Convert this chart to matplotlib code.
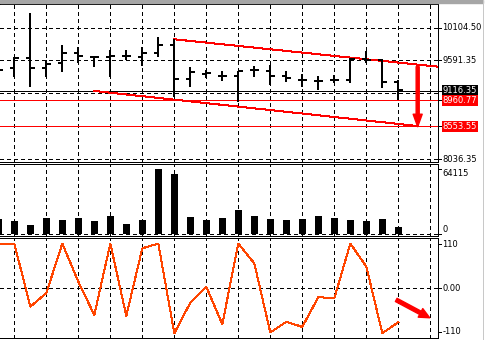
import matplotlib
matplotlib.use('Agg')
import matplotlib.pyplot as plt
import matplotlib.transforms as mtransforms
from matplotlib.patches import Rectangle
from matplotlib.lines import Line2D
import numpy as np

# ── data ───────────────────────────────────────────────────────────────────
bar_idx = np.arange(26)
opens  = [9505, 9468, 9626, 9478, 9547, 9715, 9651, 9651, 9667, 9651, 9715, 9836, 9299,
          9383, 9342, 9347, 9441, 9430, 9347, 9284, 9273, 9284, 9284, 9610, 9599, 9257]
highs  = [9568, 9642, 10337, 9599, 9836, 9809, 9667, 9757, 9757, 9809, 9958, 9926, 9484,
          9441, 9426, 9430, 9505, 9520, 9426, 9378, 9347, 9363, 9626, 9741, 9610, 9284]
lows   = [9347, 9336, 9168, 9336, 9415, 9557, 9494, 9326, 9599, 9509, 9642, 9020, 9178,
          9320, 9268, 8941, 9326, 9200, 9257, 9168, 9126, 9232, 9232, 9547, 9153, 8960]
closes = [9441, 9626, 9478, 9531, 9715, 9667, 9651, 9667, 9667, 9715, 9836, 9304, 9405,
          9394, 9342, 9430, 9441, 9347, 9310, 9284, 9273, 9284, 9610, 9599, 9257, 9125]

volumes = [15200, 13200, 9300, 16150, 14200, 16150, 13200, 18100, 10300, 14200, 64115, 59200, 17100,
           14200, 16150, 24000, 18100, 15200, 14200, 15200, 18100, 16150, 14200, 13200, 15200, 7350]

cci = [112, 112, -47, -13, 112, 16, -68, 112, -70, 100, 112, -114, -37,
       3, -91, 112, 62, -112, -85, -98, -23, -26, 112, 54, -114, -86]

price_grid = [10104.50, 9591.35, 9078.20, 8565.05, 8036.35]
price_ticks = [10104.50, 9591.35, 8036.35]
current_price = 9116.35
level_lines = [8960.77, 8553.55]
upper_trend_x, upper_trend_y = [11, 27.5], [9926, 9493]
lower_trend_x, lower_trend_y = [6, 26.2], [9110, 8557]
price_arrow = ((26.21, 9493), (26.21, 8546))
cci_arrow = ((24.87, -30), (26.96, -75))
vol_max = 64115
cci_levels = [110, 0, -110]
cci_labels = ['110', '0.00', '-110']

# ── figure ─────────────────────────────────────────────────────────────────
W, H = 486, 340
fig = plt.figure(figsize=(W / 100, H / 100), dpi=100)
fig.patch.set_facecolor('white')

PX = 0.72  # one pixel in points
DASH = (0, (3, 3))


def px_axes(x0, y0, x1, y1):
    return fig.add_axes([x0 / W, 1 - y1 / H, (x1 - x0) / W, (y1 - y0) / H])


def style(ax):
    ax.set_xlim(0.106, 27.48)
    ax.set_xticks([])
    ax.set_yticks([])
    ax.spines['left'].set_visible(False)
    for s in ('top', 'bottom', 'right'):
        ax.spines[s].set_linewidth(PX)
        ax.spines[s].set_color('black')
    for gx in range(1, 28, 2):
        ax.axvline(gx, color='black', lw=PX, ls=DASH, antialiased=False, zorder=1)


def right_label(ax, y, s, fc=None, va='center'):
    tr = mtransforms.blended_transform_factory(fig.transFigure, ax.transData)
    kw = {}
    color = 'black'
    if fc:
        kw['bbox'] = dict(boxstyle='square,pad=0.12', fc=fc, ec='none')
        color = 'white'
    ax.text(442.5 / W, y, s, transform=tr, fontsize=6, va=va, ha='left',
            color=color, clip_on=False, family='DejaVu Sans', **kw)
    tr2 = mtransforms.blended_transform_factory(ax.transAxes, ax.transData)
    ax.plot([1, 1 + 3 / 438], [y, y], transform=tr2, color='black', lw=PX,
            clip_on=False, antialiased=False)


# top strip and right frame line
fig.patches.append(Rectangle((0, 1 - 2.5 / H), 483 / W, 2.5 / H, transform=fig.transFigure,
                             color='#a6a6a6', zorder=0))
fig.lines.append(Line2D([483 / W, 483 / W], [0, 1], transform=fig.transFigure,
                        color='#c8c8c8', lw=PX))

# ── price panel ────────────────────────────────────────────────────────────
ax1 = px_axes(0, 4, 438, 161.5)
style(ax1)
ax1.set_ylim(7997, 10483)
for g in price_grid:
    ax1.axhline(g, color='black', lw=PX, ls=DASH, antialiased=False, zorder=1)
ax1.axhline(current_price, color='black', lw=PX, antialiased=False, zorder=2)
for lv in level_lines:
    ax1.axhline(lv, color='red', lw=PX, antialiased=False, zorder=2)
ax1.plot(upper_trend_x, upper_trend_y, color='red', lw=PX, antialiased=False, zorder=2)
ax1.plot(lower_trend_x, lower_trend_y, color='red', lw=PX, antialiased=False, zorder=2)

ax1.vlines(bar_idx, lows, highs, color='black', lw=PX * 2, antialiased=False, zorder=3)
ax1.hlines(opens, bar_idx - 0.3, bar_idx, color='black', lw=PX * 2, antialiased=False, zorder=3)
ax1.hlines(closes, bar_idx, bar_idx + 0.3, color='black', lw=PX * 2, antialiased=False, zorder=3)

ax1.annotate('', xy=price_arrow[1], xytext=price_arrow[0],
             arrowprops=dict(facecolor='red', edgecolor='red', width=2.2, headwidth=6.5,
                             headlength=9, shrink=0), zorder=4)

for p in price_ticks:
    right_label(ax1, p, f'{p:.2f}')
right_label(ax1, current_price, f'{current_price:.2f}', fc='black')
for lv in level_lines:
    right_label(ax1, lv, f'{lv:.2f}', fc='red')

# ── volume panel ───────────────────────────────────────────────────────────
ax2 = px_axes(0, 163.8, 438, 235.6)
style(ax2)
ax2.set_ylim(-1077, 69215)
ax2.axhline(0, color='black', lw=PX, ls=DASH, antialiased=False, zorder=1)
ax2.bar(bar_idx, volumes, width=0.44, color='black', antialiased=False, zorder=3)
right_label(ax2, vol_max, f'{vol_max}', va='top')
right_label(ax2, 0, '0', va='bottom')

# ── CCI panel ──────────────────────────────────────────────────────────────
ax3 = px_axes(0, 237.6, 438, 337.7)
style(ax3)
ax3.set_ylim(-125.2, 127)
ax3.axhline(0, color='black', lw=PX, ls=DASH, antialiased=False, zorder=1)
ax3.plot(bar_idx, cci, color='#ff4500', lw=PX, antialiased=False, zorder=3)
ax3.annotate('', xy=cci_arrow[1], xytext=cci_arrow[0],
             arrowprops=dict(facecolor='red', edgecolor='red', width=2.6, headwidth=7,
                             headlength=7.5, shrink=0), zorder=4)
for lv, lab in zip(cci_levels, cci_labels):
    right_label(ax3, lv, lab)

fig.savefig('out.png', dpi=100)
